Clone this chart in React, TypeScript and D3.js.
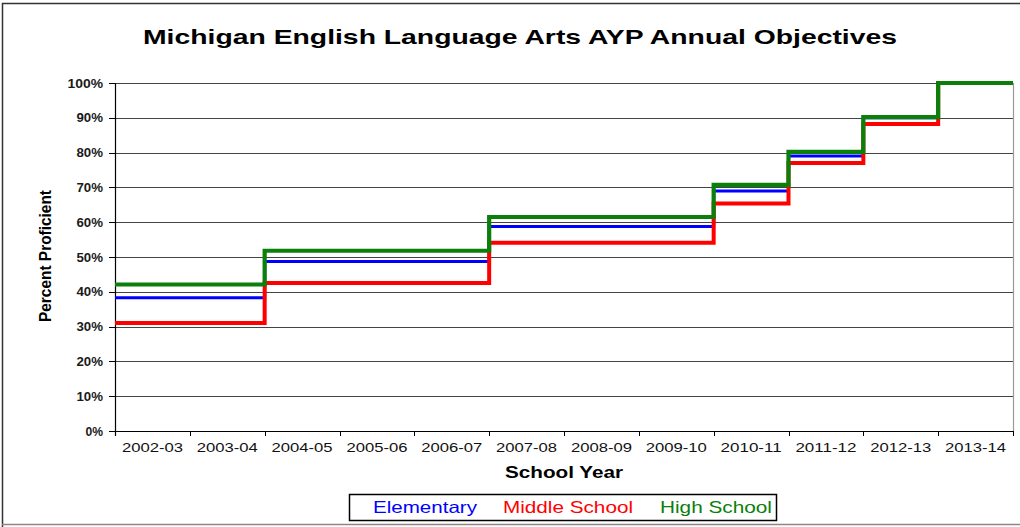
import React from "react";
import * as d3 from "d3";

const categories = ["2002-03","2003-04","2004-05","2005-06","2006-07","2007-08","2008-09","2009-10","2010-11","2011-12","2012-13","2013-14"];
const elementary = [38.3, 38.3, 48.7, 48.7, 48.7, 58.8, 58.8, 58.8, 69, 79, 90, 100];
const middleSchool = [31, 31, 42.5, 42.5, 42.5, 54.1, 54.1, 54.1, 65.4, 77, 88.2, 100];
const highSchool = [42.1, 42.1, 51.8, 51.8, 51.8, 61.5, 61.5, 61.5, 70.7, 80.2, 90.2, 100];
const yTicks = [0, 10, 20, 30, 40, 50, 60, 70, 80, 90, 100];

const seriesList = [
  { name: "Elementary", values: elementary, color: "#0000ff", width: 3 },
  { name: "Middle School", values: middleSchool, color: "#ff0000", width: 4 },
  { name: "High School", values: highSchool, color: "#0a7f0a", width: 4.2 },
];

const W = 1020, H = 527;
const left = 115, right = 1013, top = 83, bottom = 431;
const font = "Arial, 'Liberation Sans', sans-serif";

export default function App() {
  const x = d3.scaleBand<string>().domain(categories).range([left, right]);
  const y = d3.scaleLinear().domain([0, 100]).range([bottom, top]);
  const line = d3.line<[number, number]>().x(d => d[0]).y(d => d[1]).curve(d3.curveStepAfter);

  const pathFor = (vals: number[]) => {
    const pts: [number, number][] = vals.map((v, i) => [x(categories[i]) as number, y(v)]);
    pts.push([right, y(vals[vals.length - 1])]);
    return line(pts) || "";
  };

  const boundaries = categories.map(c => x(c) as number).concat([right]);

  return (
    <svg width={W} height={H} style={{ position: "absolute", left: 0, top: 0, background: "#fff" }}>
      <rect x={0} y={0} width={W} height={H} fill="#fff" />
      {/* outer frame */}
      <path d={`M2.5,${H} L2.5,3.5 L${W},3.5`} fill="none" stroke="#333" strokeWidth={1.5} />
      <line x1={2} x2={W} y1={524.5} y2={524.5} stroke="#888" strokeWidth={1.5} />

      <text x={520} y={44} textAnchor="middle" fontFamily={font} fontWeight="bold" fontSize={21}
        textLength={754} lengthAdjust="spacingAndGlyphs" fill="#000">
        Michigan English Language Arts AYP Annual Objectives
      </text>

      {/* gridlines */}
      {yTicks.map(t => (
        <line key={"g" + t} x1={left} x2={right} y1={Math.round(y(t)) + 0.5} y2={Math.round(y(t)) + 0.5}
          stroke={t === 0 ? "#000" : "#444"} strokeWidth={1} />
      ))}
      <line x1={right + 0.5} x2={right + 0.5} y1={top} y2={bottom} stroke="#999" strokeWidth={1.2} />

      {/* y ticks & labels */}
      {yTicks.map(t => {
        const label = `${t}%`;
        return (
          <g key={"y" + t}>
            <line x1={left - 6} x2={left} y1={Math.round(y(t)) + 0.5} y2={Math.round(y(t)) + 0.5} stroke="#000" />
            <text x={103} y={y(t) + 4.5} textAnchor="end" fontFamily={font} fontWeight="bold" fontSize={12} fill="#1a1a1a"
              textLength={label.length * 9 - 0.5} lengthAdjust="spacingAndGlyphs">
              {label}
            </text>
          </g>
        );
      })}
      <line x1={left + 0.5} x2={left + 0.5} y1={top} y2={bottom + 5} stroke="#000" strokeWidth={1.2} />

      {/* x ticks & labels */}
      {boundaries.map((b, i) => (
        <line key={"xt" + i} x1={Math.round(b) + 0.5} x2={Math.round(b) + 0.5} y1={bottom} y2={bottom + 5} stroke="#000" />
      ))}
      {categories.map(c => (
        <text key={c} x={(x(c) as number) + x.bandwidth() / 2} y={452} textAnchor="middle" fontFamily={font}
          fontSize={13.5} fill="#111" textLength={61} lengthAdjust="spacingAndGlyphs">
          {c}
        </text>
      ))}

      <text x={564} y={478} textAnchor="middle" fontFamily={font} fontWeight="bold" fontSize={16.5}
        textLength={118} lengthAdjust="spacingAndGlyphs" fill="#000">
        School Year
      </text>
      <text transform={`translate(51,256) rotate(-90)`} textAnchor="middle" fontFamily={font} fontWeight="bold"
        fontSize={16} textLength={132} lengthAdjust="spacingAndGlyphs" fill="#000">
        Percent Proficient
      </text>

      {/* series */}
      {seriesList.map(s => (
        <path key={s.name} d={pathFor(s.values)} fill="none" stroke={s.color} strokeWidth={s.width} />
      ))}

      {/* legend */}
      <rect x={349.5} y={494.5} width={427} height={26} fill="#fff" stroke="#000" strokeWidth={1.5} />
      <text x={373} y={513} fontFamily={font} fontSize={16.5} fill="#0000ff" textLength={104} lengthAdjust="spacingAndGlyphs">Elementary</text>
      <text x={503} y={513} fontFamily={font} fontSize={16.5} fill="#ff0000" textLength={130} lengthAdjust="spacingAndGlyphs">Middle School</text>
      <text x={660} y={513} fontFamily={font} fontSize={16.5} fill="#0a7f0a" textLength={112} lengthAdjust="spacingAndGlyphs">High School</text>
    </svg>
  );
}
